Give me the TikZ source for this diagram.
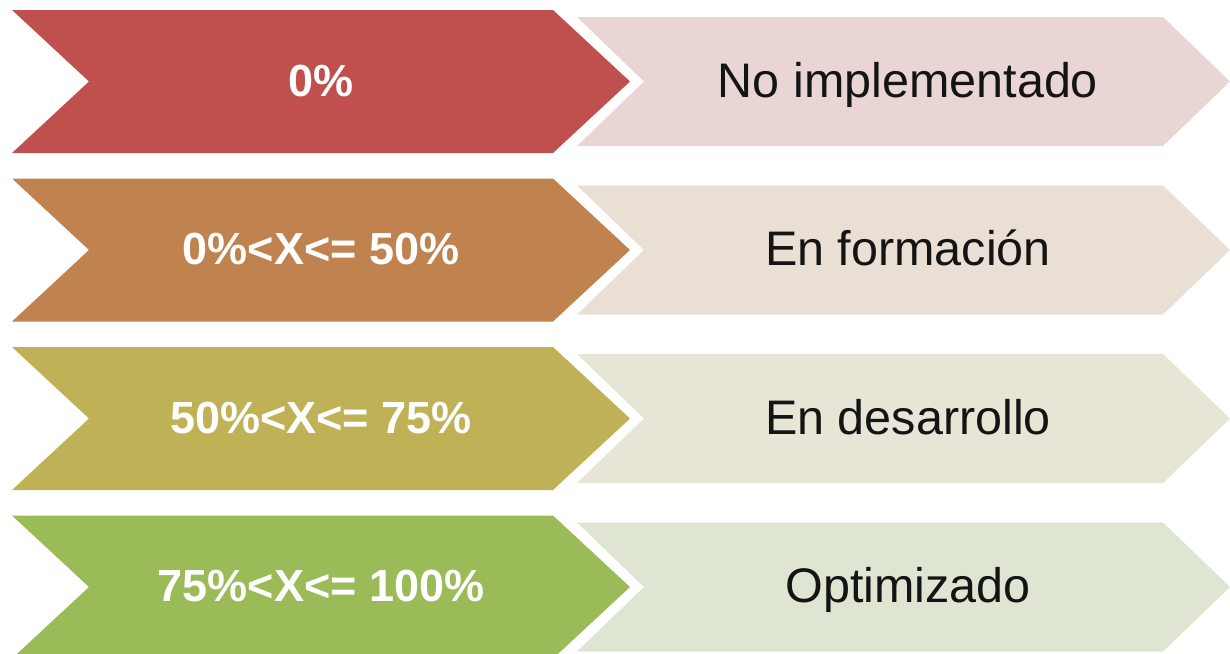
\documentclass[tikz,border=0pt]{standalone}
\usepackage{fontspec}
\setmainfont{Liberation Sans}
\definecolor{cA}{HTML}{C0504D}
\definecolor{cB}{HTML}{C0834F}
\definecolor{cC}{HTML}{BFB256}
\definecolor{cD}{HTML}{9BBB59}
\definecolor{lA}{HTML}{EAD5D5}
\definecolor{lB}{HTML}{E9DFD5}
\definecolor{lC}{HTML}{E6E5D6}
\definecolor{lD}{HTML}{DEE6D3}
\tikzset{
  lbl/.style={font=\fontsize{45}{50}\selectfont\bfseries, text=white, anchor=base, inner sep=0pt},
  desc/.style={font=\fontsize{48.5}{54}\selectfont, text=black!92, anchor=base, inner sep=0pt},
}
\newcommand{\chevrow}[6]{%
  % #1 top y, #2 dark colour, #3 light colour, #4 label, #5 description, #6 name
  \begin{scope}[yshift=-#1pt]
    \fill[#2] (12,0) -- (553,0) -- (630,71.5) -- (553,143) -- (12,143) -- (89,71.5) -- cycle;
    \fill[#3] (577,7) -- (1163,7) -- (1230,71.5) -- (1163,136) -- (577,136) -- (644,71.5) -- cycle;
    \node[lbl] (#6l) at (321,86) {#4};
    \node[desc] (#6r) at (908,87) {#5};
  \end{scope}}
\begin{document}
\begin{tikzpicture}[x=1pt,y=-1pt]
  \useasboundingbox (0,0) rectangle (1230,653);
  \chevrow{10}{cA}{lA}{0\%}{No implementado}{a}
  \chevrow{178.5}{cB}{lB}{0\%<X<= 50\%}{En formación}{b}
  \chevrow{347}{cC}{lC}{50\%<X<= 75\%}{En desarrollo}{c}
  \chevrow{515.5}{cD}{lD}{75\%<X<= 100\%}{Optimizado}{d}
\end{tikzpicture}
\end{document}
